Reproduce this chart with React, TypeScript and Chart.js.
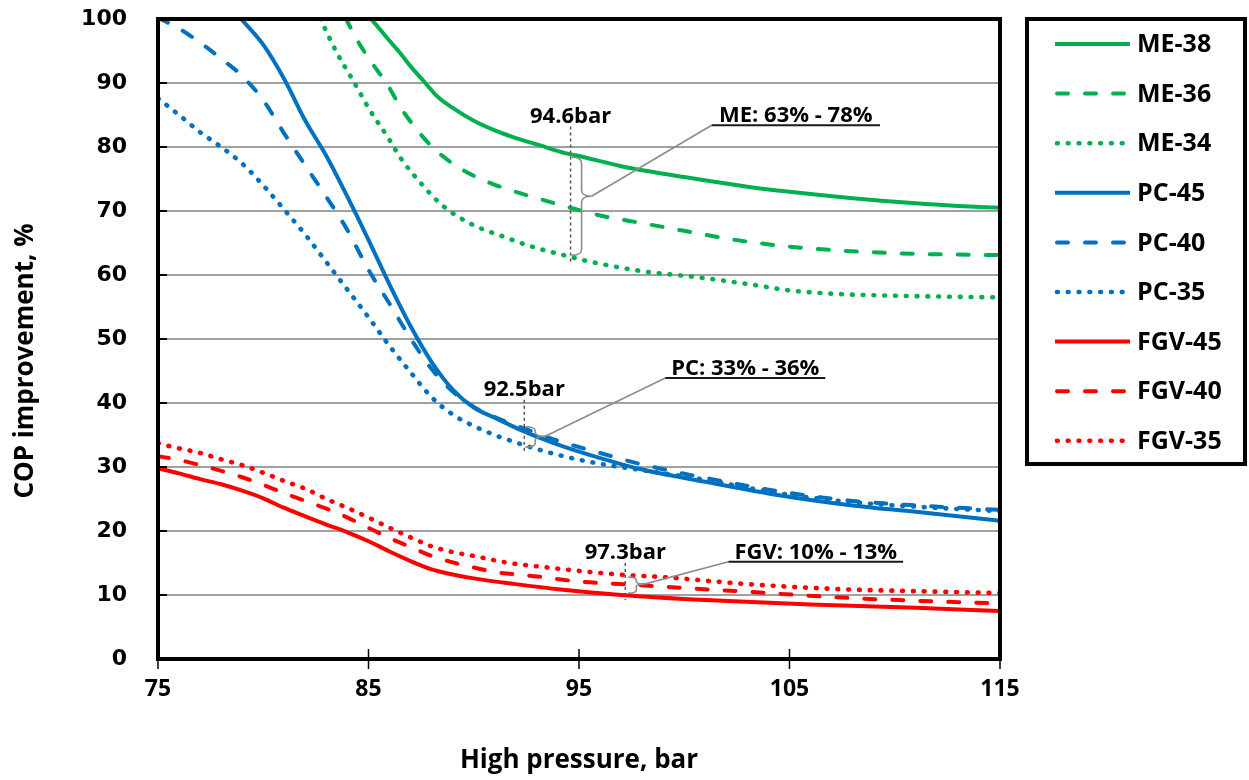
import React, { useEffect, useRef } from 'react';
import { Chart, registerables } from 'chart.js';

Chart.register(...registerables);

// ---------- data ----------
const me38P = [85, 86, 86.5, 87, 87.7, 88.3, 89, 90, 91, 92, 93, 94.4, 95, 97, 100, 103, 105, 108, 111, 113, 115];
const me38V = [100.5, 96.6, 94.7, 92.6, 90, 87.8, 86.1, 84.1, 82.6, 81.4, 80.4, 79.0, 78.6, 77.0, 75.3, 73.8, 73.0, 72.0, 71.2, 70.8, 70.5];

const me36P = [83.9, 84.5, 85, 86, 86.5, 87.3, 88, 89, 90, 91, 92, 93, 94.6, 96, 98, 100, 102, 104.5, 107.5, 111, 113, 115];
const me36V = [100.2, 96.5, 93.9, 89.2, 86.3, 82.7, 80.1, 77.4, 75.5, 74.1, 73.0, 72.0, 70.5, 69.3, 68.1, 66.9, 65.7, 64.6, 63.8, 63.3, 63.2, 63.1];

const me34P = [82.7, 83.5, 84.3, 85, 86, 86.5, 87.5, 88.5, 89.8, 91.4, 92.8, 94.4, 95.5, 98, 100.5, 103, 105, 107.5, 111, 115];
const me34V = [100.1, 94.7, 90.2, 86.1, 81.1, 78.4, 74.3, 70.9, 68.1, 66.0, 64.4, 63.0, 62.1, 60.6, 59.7, 58.6, 57.6, 57.0, 56.7, 56.5];

const pc45P = [78.9, 80, 81, 82, 83, 84, 85, 86, 87, 88, 89, 90, 91, 92.5, 94, 95.5, 98, 101, 104.5, 108, 111, 115];
const pc45V = [100.2, 96, 90.6, 84.1, 78.6, 72.2, 65.5, 58.5, 52, 46.4, 42.1, 39.3, 37.7, 35.4, 33.5, 31.9, 29.6, 27.7, 25.6, 24.0, 23.0, 21.6];

const pc40P = [75, 76, 77, 78, 79, 80, 81, 82, 83, 84, 85, 86, 87, 88, 89, 90, 91, 92.5, 94, 96, 98, 101, 104.5, 108, 111, 115];
const pc40V = [100.2, 98.5, 96.3, 93.8, 91.1, 87.3, 82.1, 77.1, 72.2, 67.0, 60.8, 55.5, 50.1, 45.3, 41.8, 39.4, 37.8, 35.9, 34.1, 32.2, 30.4, 28.3, 26.2, 24.7, 24.0, 23.3];

const pc35P = [75, 76, 77, 78, 79, 80, 81, 82, 83, 84, 85, 86, 87, 88, 89, 90, 91, 92.5, 94, 96, 98, 101, 104.5, 108, 111, 115];
const pc35V = [87.6, 85.0, 82.3, 80.0, 77.4, 74.0, 70.2, 66.3, 62.0, 57.7, 53.4, 48.9, 44.8, 40.9, 38.2, 36.4, 35.0, 33.3, 31.9, 30.5, 29.5, 28.0, 25.9, 24.5, 23.8, 23.1];

const fgv45P = [75, 76, 77, 78, 79, 80, 81, 82, 83, 84, 85, 86, 87, 88, 89, 90, 92, 94, 97, 101, 106, 111, 115];
const fgv45V = [29.8, 29.0, 28.1, 27.3, 26.3, 25.1, 23.6, 22.3, 21.0, 19.8, 18.4, 16.8, 15.3, 14.0, 13.2, 12.6, 11.7, 10.9, 10.0, 9.2, 8.5, 8.0, 7.5];

const fgv40P = [75, 76, 77, 78, 79, 80, 81, 82, 83, 84, 85, 86, 87, 88, 89, 90, 91, 93, 95, 97, 99, 103, 107.5, 111, 115];
const fgv40V = [31.7, 31.1, 30.3, 29.4, 28.4, 27.2, 25.9, 24.7, 23.5, 22.1, 20.5, 18.9, 17.5, 16.1, 15.1, 14.3, 13.6, 12.9, 12.1, 11.7, 11.3, 10.5, 9.6, 9.1, 8.7];

const fgv35P = [75, 76, 77, 78, 79, 80, 81, 82, 83, 84, 85, 86, 87, 88, 89, 90, 91.5, 93.5, 95.5, 97.3, 99, 103, 107.5, 111, 115];
const fgv35V = [33.7, 32.9, 32.2, 31.2, 30.3, 29.1, 27.8, 26.6, 25.0, 23.6, 22.1, 20.5, 19.0, 17.6, 16.7, 16.1, 15.1, 14.3, 13.6, 13.1, 12.8, 11.7, 10.9, 10.6, 10.3];

const seriesLabels = ['ME-38', 'ME-36', 'ME-34', 'PC-45', 'PC-40', 'PC-35', 'FGV-45', 'FGV-40', 'FGV-35'];

const xTicks = [75, 85, 95, 105, 115];
const yTicks = [0, 10, 20, 30, 40, 50, 60, 70, 80, 90, 100];

const xTitle = 'High pressure, bar';
const yTitle = 'COP improvement, %';

// annotations (data coordinates)
const annPressure = [94.6, 92.4, 97.2];
const annPressureText = ['94.6bar', '92.5bar', '97.3bar'];
const annLineLow = [61.9, 32.3, 9.2];
const annLineHigh = [83.2, 40.5, 15.0];
const annBraceLow = [63.1, 33.1, 10.3];
const annBraceHigh = [78.4, 36.3, 12.8];
const annBraceTip = [72.3, 34.8, 11.7];
const annCalloutStart = [101.3, 99.1, 102.1];
const annCalloutEnd = [109.3, 106.7, 110.4];
const annCalloutLevel = [83.4, 43.9, 15.2];
const annCalloutText = ['ME: 63% - 78%', 'PC: 33% - 36%', 'FGV: 10% - 13%'];

// ---------- styles ----------
const GREEN = '#00B050';
const BLUE = '#0070C0';
const RED = '#FF0000';
const DASH = [11, 17];
const DOT = [0.8, 10];

const styleOf = (color: string, kind: 'solid' | 'dash' | 'dot') => ({
  borderColor: color,
  backgroundColor: color,
  borderWidth: kind === 'dot' ? 4.6 : 4,
  borderDash: kind === 'solid' ? [] : kind === 'dash' ? DASH : DOT,
  borderCapStyle: kind === 'solid' ? 'butt' : 'round',
  kind,
});

const toPts = (p: number[], v: number[]) => p.map((x, i) => ({ x, y: v[i] }));

const FONT_SANS = '"Open Sans", "Noto Sans", sans-serif';

const decorPlugin = {
  id: 'decor',
  afterDraw(chart: any) {
    const { ctx, chartArea: a, scales } = chart;
    const xs = scales.x;
    const ys = scales.y;
    ctx.save();

    // y axis title
    ctx.save();
    ctx.translate(26, 361);
    ctx.rotate(-Math.PI / 2);
    ctx.fillStyle = '#000';
    ctx.font = `bold 26px ${FONT_SANS}`;
    ctx.textAlign = 'center';
    ctx.textBaseline = 'middle';
    ctx.fillText(yTitle, 0, 0);
    ctx.restore();

    // tick marks
    ctx.strokeStyle = '#000';
    ctx.lineWidth = 1.5;
    ctx.setLineDash([]);
    xTicks.forEach((t) => {
      const px = xs.getPixelForValue(t);
      ctx.beginPath();
      ctx.moveTo(px, a.bottom - 10);
      ctx.lineTo(px, a.bottom + 10);
      ctx.stroke();
    });
    ctx.lineWidth = 2;
    yTicks.forEach((t) => {
      const py = ys.getPixelForValue(t);
      ctx.beginPath();
      ctx.moveTo(a.left, py);
      ctx.lineTo(a.left + 9, py);
      ctx.stroke();
    });

    // plot frame
    ctx.lineWidth = 4;
    ctx.strokeRect(a.left, a.top, a.right - a.left, a.bottom - a.top);

    // annotations
    for (let i = 0; i < annPressure.length; i++) {
      const px = xs.getPixelForValue(annPressure[i]);
      const yLo = ys.getPixelForValue(annLineLow[i]);
      const yHi = ys.getPixelForValue(annLineHigh[i]);
      ctx.strokeStyle = '#555';
      ctx.lineWidth = 1.5;
      ctx.setLineDash([3, 3]);
      ctx.beginPath();
      ctx.moveTo(px, yHi);
      ctx.lineTo(px, yLo);
      ctx.stroke();
      ctx.setLineDash([]);
      ctx.fillStyle = '#000';
      ctx.font = `bold 22px ${FONT_SANS}`;
      ctx.textAlign = 'center';
      ctx.textBaseline = 'alphabetic';
      ctx.fillText(annPressureText[i], px, yHi - 4);

      const bx = px + 11;
      const bTop = ys.getPixelForValue(annBraceHigh[i]);
      const bBot = ys.getPixelForValue(annBraceLow[i]);
      const bTip = ys.getPixelForValue(annBraceTip[i]);
      const r = Math.min(6, (bBot - bTop) / 5);
      const hw = Math.min(10, (bBot - bTop) / 2);
      ctx.strokeStyle = '#8c8c8c';
      ctx.lineWidth = 1.6;
      ctx.beginPath();
      ctx.moveTo(bx - hw, bTop);
      ctx.quadraticCurveTo(bx, bTop, bx, bTop + r);
      ctx.lineTo(bx, bTip - r);
      ctx.quadraticCurveTo(bx, bTip, bx + hw, bTip);
      ctx.quadraticCurveTo(bx, bTip, bx, bTip + r);
      ctx.lineTo(bx, bBot - r);
      ctx.quadraticCurveTo(bx, bBot, bx - hw, bBot);
      ctx.stroke();

      const cx0 = xs.getPixelForValue(annCalloutStart[i]);
      const cx1 = xs.getPixelForValue(annCalloutEnd[i]);
      const cy = ys.getPixelForValue(annCalloutLevel[i]);
      ctx.beginPath();
      ctx.moveTo(bx + hw, bTip);
      ctx.lineTo(cx0, cy);
      ctx.stroke();
      ctx.strokeStyle = '#1a1a1a';
      ctx.lineWidth = 2;
      ctx.beginPath();
      ctx.moveTo(cx0, cy);
      ctx.lineTo(cx1, cy);
      ctx.stroke();
      ctx.fillStyle = '#000';
      ctx.font = `bold 22px ${FONT_SANS}`;
      ctx.textAlign = 'center';
      ctx.fillText(annCalloutText[i], (cx0 + cx1) / 2, cy - 3);
    }

    // legend
    const lx = 1027;
    const ly = 19;
    const lw = 218;
    const lh = 445;
    ctx.fillStyle = '#fff';
    ctx.fillRect(lx, ly, lw, lh);
    ctx.strokeStyle = '#000';
    ctx.lineWidth = 4;
    ctx.setLineDash([]);
    ctx.strokeRect(lx, ly, lw, lh);
    chart.data.datasets.forEach((ds: any, i: number) => {
      const y = 44 + i * 49.6;
      ctx.strokeStyle = ds.borderColor;
      ctx.lineWidth = ds.borderWidth;
      ctx.lineCap = ds.borderCapStyle;
      ctx.setLineDash(ds.borderDash);
      ctx.beginPath();
      if (ds.kind === 'solid') {
        ctx.moveTo(1055, y);
      } else {
        ctx.moveTo(1057, y);
      }
      ctx.lineTo(1130, y);
      ctx.stroke();
      ctx.setLineDash([]);
      ctx.lineCap = 'butt';
      ctx.fillStyle = '#000';
      ctx.font = `bold 25px ${FONT_SANS}`;
      ctx.textAlign = 'left';
      ctx.textBaseline = 'middle';
      ctx.fillText(ds.label, 1137, y + 1);
    });

    ctx.restore();
  },
};

export default function App() {
  const ref = useRef<HTMLCanvasElement | null>(null);

  useEffect(() => {
    document.body.style.margin = '0';
    const canvas = ref.current;
    if (!canvas) return;
    const series = [
      { p: me38P, v: me38V, s: styleOf(GREEN, 'solid') },
      { p: me36P, v: me36V, s: styleOf(GREEN, 'dash') },
      { p: me34P, v: me34V, s: styleOf(GREEN, 'dot') },
      { p: pc45P, v: pc45V, s: styleOf(BLUE, 'solid') },
      { p: pc40P, v: pc40V, s: styleOf(BLUE, 'dash') },
      { p: pc35P, v: pc35V, s: styleOf(BLUE, 'dot') },
      { p: fgv45P, v: fgv45V, s: styleOf(RED, 'solid') },
      { p: fgv40P, v: fgv40V, s: styleOf(RED, 'dash') },
      { p: fgv35P, v: fgv35V, s: styleOf(RED, 'dot') },
    ];
    const chart = new Chart(canvas, {
      type: 'line',
      data: {
        datasets: series.map((d, i) => ({
          label: seriesLabels[i],
          data: toPts(d.p, d.v),
          ...d.s,
          pointRadius: 0,
          pointHoverRadius: 0,
          fill: false,
          cubicInterpolationMode: 'monotone',
        })) as any,
      },
      options: {
        animation: false,
        responsive: false,
        devicePixelRatio: 1,
        events: [],
        layout: { padding: { top: 19, right: 249, bottom: 0, left: 0 } },
        plugins: {
          legend: { display: false },
          tooltip: { enabled: false },
          title: { display: false },
        },
        scales: {
          x: {
            type: 'linear',
            min: 75,
            max: 115,
            afterFit: (s: any) => {
              s.height = 121;
              s.paddingLeft = 0;
              s.paddingRight = 0;
              s.paddingTop = 0;
              s.paddingBottom = 0;
            },
            afterBuildTicks: (s: any) => {
              s.ticks = xTicks.map((v) => ({ value: v }));
            },
            ticks: {
              color: '#000',
              font: { family: FONT_SANS, weight: 'bold', size: 23 },
              padding: 17,
              maxRotation: 0,
            },
            grid: { display: false, drawTicks: false },
            border: { display: false },
            title: {
              display: true,
              text: xTitle,
              color: '#000',
              font: { family: FONT_SANS, weight: 'bold', size: 26 },
              padding: { top: 0, bottom: 4 },
            },
          },
          y: {
            type: 'linear',
            min: 0,
            max: 100,
            afterFit: (s: any) => {
              s.width = 158;
              s.paddingTop = 0;
              s.paddingBottom = 0;
              s.paddingLeft = 0;
              s.paddingRight = 0;
            },
            afterBuildTicks: (s: any) => {
              s.ticks = yTicks.map((v) => ({ value: v }));
            },
            ticks: {
              color: '#000',
              font: { family: '"DejaVu Sans", Verdana, sans-serif', weight: 'bold', size: 22 },
              padding: 31,
            },
            grid: { color: '#a0a0a0', lineWidth: 2, drawTicks: false },
            border: { display: false },
            title: { display: false },
          },
        },
      } as any,
      plugins: [decorPlugin],
    });
    return () => chart.destroy();
  }, []);

  return (
    <div style={{ width: 1249, height: 780 }}>
      <canvas ref={ref} width={1249} height={780} style={{ display: 'block' }} />
    </div>
  );
}
